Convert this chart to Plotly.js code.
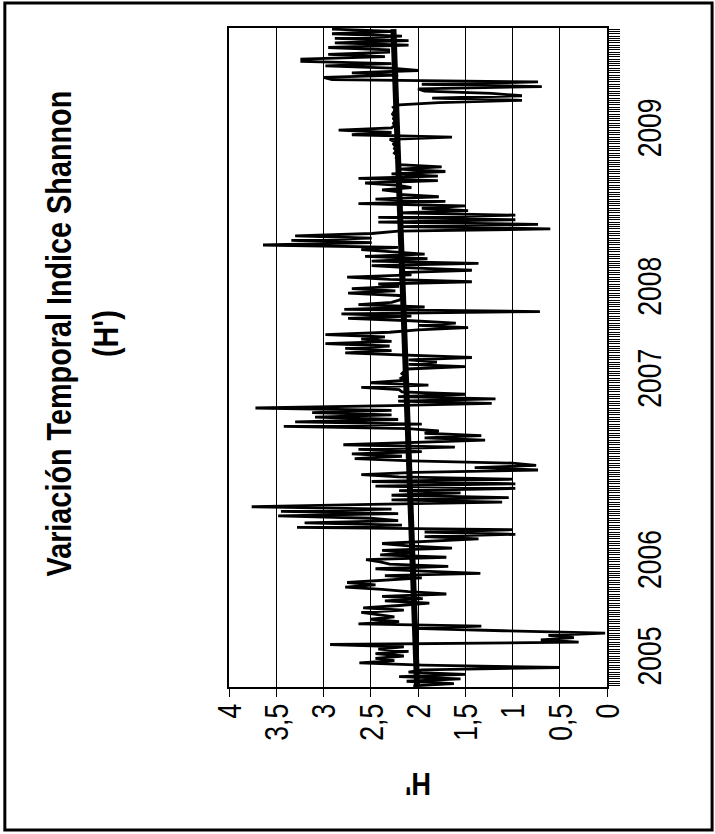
<!DOCTYPE html>
<html>
<head>
<meta charset="utf-8">
<script src="https://cdn.plot.ly/plotly-3.0.1.min.js"></script>
<style>
html,body{margin:0;padding:0;background:#fff;overflow:hidden;width:715px;height:834px;}
#wrap{position:absolute;left:0;top:0;width:834px;height:715px;transform-origin:0 0;transform:translate(0px,834px) rotate(-90deg);}
</style>
</head>
<body>
<div id="wrap"><div id="chart" style="width:834px;height:715px;"></div></div>
<script>
// Shannon index H' values in time order (one value per sampling date)
const hValues = [
 2.05,1.62,2.12,1.55,2.2,1.5,2.1,1.96,0.5,1.95,
 2.62,2.25,2.45,2.15,2.45,2.1,2.42,2.15,2.93,0.3,
 0.7,0.35,0.62,0.02,1.1,2.05,1.33,2.63,2.2,2.5,
 2.25,2.45,2.6,2.15,2.58,2.2,1.88,2.35,1.95,2.38,
 1.7,2.1,2.38,2.77,2.45,2.75,2.3,1.96,2.35,1.34,
 1.95,2.45,1.68,2.3,2.4,2.55,1.7,2.4,2.05,2.38,
 1.64,2.1,
 2.38,1.93,1.36,1.93,0.97,1.93,1.0,3.28,2.17,3.2,
 2.21,2.5,3.48,2.21,3.45,2.28,3.76,2.49,1.11,2.28,
 1.04,2.28,1.55,2.2,0.97,2.45,0.97,2.49,1.0,2.2,
 2.6,2.03,0.73,1.4,0.75,1.0,2.07,2.67,2.17,2.7,
 1.96,2.63,1.61,2.79,2.07,1.29,1.93,1.33,1.93,1.78,
 2.1,3.42,1.96,3.3,2.21,3.09,
 2.28,3.12,2.28,3.72,2.28,1.22,2.21,1.18,2.21,1.5,
 2.17,2.2,2.6,1.89,2.5,2.15,2.18,2.14,2.17,2.15,
 2.12,1.5,2.1,1.8,2.1,1.43,2.1,2.77,2.28,2.77,
 2.3,2.98,2.28,2.6,2.35,2.98,2.3,2.0,1.47,2.0,
 1.6,2.07,2.74,2.07,2.81,0.71,2.78,1.93,2.63,2.28,
 2.2,2.15,2.2,2.74,2.24,2.7,2.2,
 2.42,1.43,2.3,2.75,2.07,2.2,1.43,2.07,2.49,1.36,
 2.49,1.9,2.56,1.93,2.3,2.6,2.21,3.64,2.49,3.34,
 2.49,3.3,2.49,2.21,0.6,2.17,0.73,2.42,0.97,2.42,
 0.97,2.21,1.47,1.96,1.5,2.63,1.71,2.45,1.78,2.2,
 2.18,2.38,2.07,2.2,2.56,1.79,2.63,1.79,2.28,1.71,
 2.21,1.75,2.2,2.22,2.2,2.23,2.22,
 2.25,2.23,2.25,2.24,2.26,2.25,2.3,1.64,2.7,2.28,
 2.84,2.28,2.25,2.26,2.24,2.26,2.25,2.27,2.25,2.24,
 2.26,2.2,1.78,0.9,1.85,0.9,1.22,1.93,2.0,0.69,
 1.96,0.73,2.91,3.0,2.21,2.7,2.0,2.28,2.98,2.28,
 3.23,3.23,2.35,2.95,2.31,2.31,2.95,2.1,2.88,2.1,
 2.88,2.17,2.91,2.24,2.91
];
// linear trend end points (start, end)
const trendValues = [2.01, 2.26];
// year labels on the category axis and the sample index they sit on
const yearLabels = ['2005','2006','2007','2008','2009'];
const yearIdx = [13, 55, 134, 174, 243];
const yTickVals = [0,0.5,1,1.5,2,2.5,3,3.5,4];

const N = hValues.length;
const xs = hValues.map((v,i)=>i);
const tickText = xs.map(i=>{const k=yearIdx.indexOf(i);return k>=0?yearLabels[k]:'';});

const fam = 'Liberation Sans, Arial, sans-serif';

const traces = [
 {x: xs, y: hValues, type:'scatter', mode:'lines', line:{color:'#000', width:2.8}, hoverinfo:'skip'},
 {x: [0, N-1], y: trendValues, type:'scatter', mode:'lines', line:{color:'#000', width:6}, hoverinfo:'skip'}
];

const layout = {
 width:834, height:715,
 margin:{l:147, r:28, t:229, b:108},
 paper_bgcolor:'#fff', plot_bgcolor:'#fff',
 showlegend:false,
 separators:',.',
 font:{family:fam, color:'#000'},
 title:{text:'<b>Variación Temporal Indice Shannon<br>(H\')</b>', font:{family:fam, size:36, color:'#000'},
   xref:'container', x:0.6, xanchor:'center', yref:'container', y:0.9, yanchor:'middle'},
 xaxis:{range:[-0.5, N-0.5], tickmode:'array', tickvals:xs, ticktext:tickText,
   ticks:'outside', ticklen:11, tickwidth:1, tickcolor:'#000',
   showline:true, linecolor:'#000', linewidth:2, mirror:true,
   showgrid:false, zeroline:false, tickangle:0,
   tickfont:{family:fam, size:34, color:'#000'}},
 yaxis:{range:[0,4], tickmode:'array', tickvals:yTickVals,
   ticks:'outside', ticklen:8, tickwidth:1, tickcolor:'#000',
   showline:true, linecolor:'#000', linewidth:2, mirror:true,
   showgrid:true, gridcolor:'#000', gridwidth:1, zeroline:false,
   tickfont:{family:fam, size:34, color:'#000'},
   title:{text:'<b>H\'</b>', font:{family:fam, size:32, color:'#000'}, standoff:12}},
 shapes:[{type:'rect', xref:'paper', yref:'paper', x0:-0.217, x1:1.038, y0:-0.278, y1:1.593,
   line:{color:'#000', width:3}, fillcolor:'rgba(0,0,0,0)'}]
};

// narrow the glyphs along the text direction (the original uses a condensed face)
function condense(el, s, anchor){
  const b = el.getBBox();
  const cx = anchor==='end' ? b.x + b.width : (anchor==='start' ? b.x : b.x + b.width/2);
  const t = el.getAttribute('transform') || '';
  el.setAttribute('transform', t + ' translate(' + cx + ',0) scale(' + s + ',1) translate(' + (-cx) + ',0)');
}

Plotly.newPlot('chart', traces, layout, {staticPlot:true, displayModeBar:false}).then(gd=>{
  gd.querySelectorAll('.xtick text').forEach(t=>condense(t, 0.78, 'middle'));
  gd.querySelectorAll('.ytick text').forEach(t=>condense(t, 0.78, 'end'));
  gd.querySelectorAll('.gtitle').forEach(t=>condense(t, 0.8, 'middle'));
  gd.querySelectorAll('.g-ytitle text').forEach(t=>condense(t, 0.85, 'middle'));
});
</script>
</body>
</html>
